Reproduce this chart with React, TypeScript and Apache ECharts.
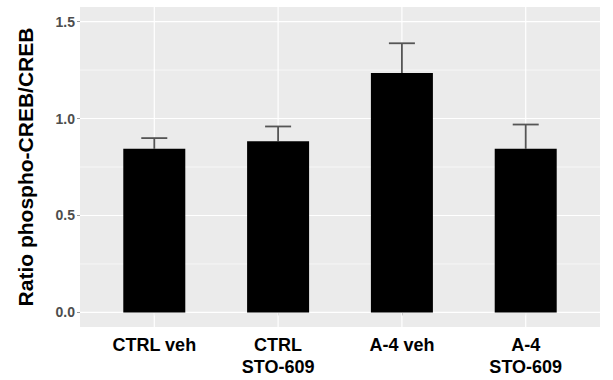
import React, { useEffect, useRef } from "react";
import * as echarts from "echarts";

const categories = ["CTRL veh", "CTRL\nSTO-609", "A-4 veh", "A-4\nSTO-609"];
const means = [0.844, 0.883, 1.235, 0.844];
const errors = [0.055, 0.076, 0.153, 0.125];
const yTicks = [0, 0.5, 1.0, 1.5];
const yMinorTicks = [0.25, 0.75, 1.25];
const xPositions = [1, 2, 3, 4];

export default function App() {
  const ref = useRef<HTMLDivElement>(null);
  useEffect(() => {
    if (!ref.current) return;
    const chart = echarts.init(ref.current, undefined, { renderer: "svg" });
    const gridData: any[] = [
      ...yTicks.map((v) => ({ value: [0, v, 0, 1.2] })),
      ...yMinorTicks.map((v) => ({ value: [0, v, 0, 0.6] })),
      ...xPositions.map((v) => ({ value: [v, 0, 1, 1.2] })),
    ];
    chart.setOption({
      animation: false,
      grid: {
        left: 80,
        right: 13,
        top: 7,
        bottom: 53,
        show: true,
        backgroundColor: "#EBEBEB",
        borderWidth: 0,
      },
      xAxis: {
        type: "value",
        min: 0.4,
        max: 4.6,
        splitLine: { show: false },
        axisLine: { show: false },
        axisTick: {
          show: true,
          customValues: xPositions,
          length: 3,
          lineStyle: { color: "#999", width: 1 },
        },
        axisLabel: {
          customValues: xPositions,
          formatter: (v: number) => categories[Math.round(v) - 1] ?? "",
          fontFamily: "Liberation Sans, Arial, sans-serif",
          fontWeight: "bold",
          fontSize: 18,
          color: "#000",
          margin: 7,
          lineHeight: 22,
          align: "center",
        },
      },
      yAxis: {
        type: "value",
        min: -0.075,
        max: 1.575,
        splitLine: { show: false },
        axisLine: { show: false },
        axisTick: {
          show: true,
          customValues: yTicks,
          length: 3,
          lineStyle: { color: "#999", width: 1 },
        },
        axisLabel: {
          customValues: yTicks,
          formatter: (v: number) => v.toFixed(1),
          fontFamily: "Liberation Sans, Arial, sans-serif",
          fontWeight: "bold",
          fontSize: 14,
          color: "#4D4D4D",
          margin: 5,
        },
        name: "Ratio phospho-CREB/CREB",
        nameLocation: "middle",
        nameGap: 44,
        nameTextStyle: {
          fontFamily: "Liberation Sans, Arial, sans-serif",
          fontWeight: "bold",
          fontSize: 21,
          color: "#000",
        },
      },
      series: [
        {
          type: "custom",
          z: 1,
          silent: true,
          data: gridData,
          renderItem: (params: any, api: any) => {
            const cs = params.coordSys;
            const isVertical = api.value(2) === 1;
            const w = api.value(3);
            if (isVertical) {
              const p = api.coord([api.value(0), 0]);
              return {
                type: "line",
                shape: { x1: p[0], y1: cs.y, x2: p[0], y2: cs.y + cs.height },
                style: { stroke: "#FFFFFF", lineWidth: w },
              };
            }
            const p = api.coord([1, api.value(1)]);
            return {
              type: "line",
              shape: { x1: cs.x, y1: p[1], x2: cs.x + cs.width, y2: p[1] },
              style: { stroke: "#FFFFFF", lineWidth: w },
            };
          },
        },
        {
          type: "custom",
          z: 2,
          silent: true,
          data: xPositions.map((x, i) => [x, means[i], means[i] + errors[i]]),
          renderItem: (params: any, api: any) => {
            const x = api.value(0);
            const m = api.coord([x, api.value(1)]);
            const u = api.coord([x, api.value(2)]);
            const l = api.coord([x - 0.105, api.value(2)]);
            const r = api.coord([x + 0.105, api.value(2)]);
            return {
              type: "group",
              children: [
                {
                  type: "line",
                  shape: { x1: m[0], y1: m[1], x2: u[0], y2: u[1] },
                  style: { stroke: "#555555", lineWidth: 1.8 },
                },
                {
                  type: "line",
                  shape: { x1: l[0], y1: l[1], x2: r[0], y2: r[1] },
                  style: { stroke: "#555555", lineWidth: 1.8 },
                },
              ],
            };
          },
        },
        {
          type: "bar",
          z: 3,
          barWidth: 62,
          data: xPositions.map((x, i) => [x, means[i]]),
          itemStyle: { color: "#000000" },
          silent: true,
        },
      ],
    });
    return () => chart.dispose();
  }, []);
  return <div ref={ref} style={{ width: 613, height: 380, position: "absolute", left: 0, top: 0 }} />;
}
